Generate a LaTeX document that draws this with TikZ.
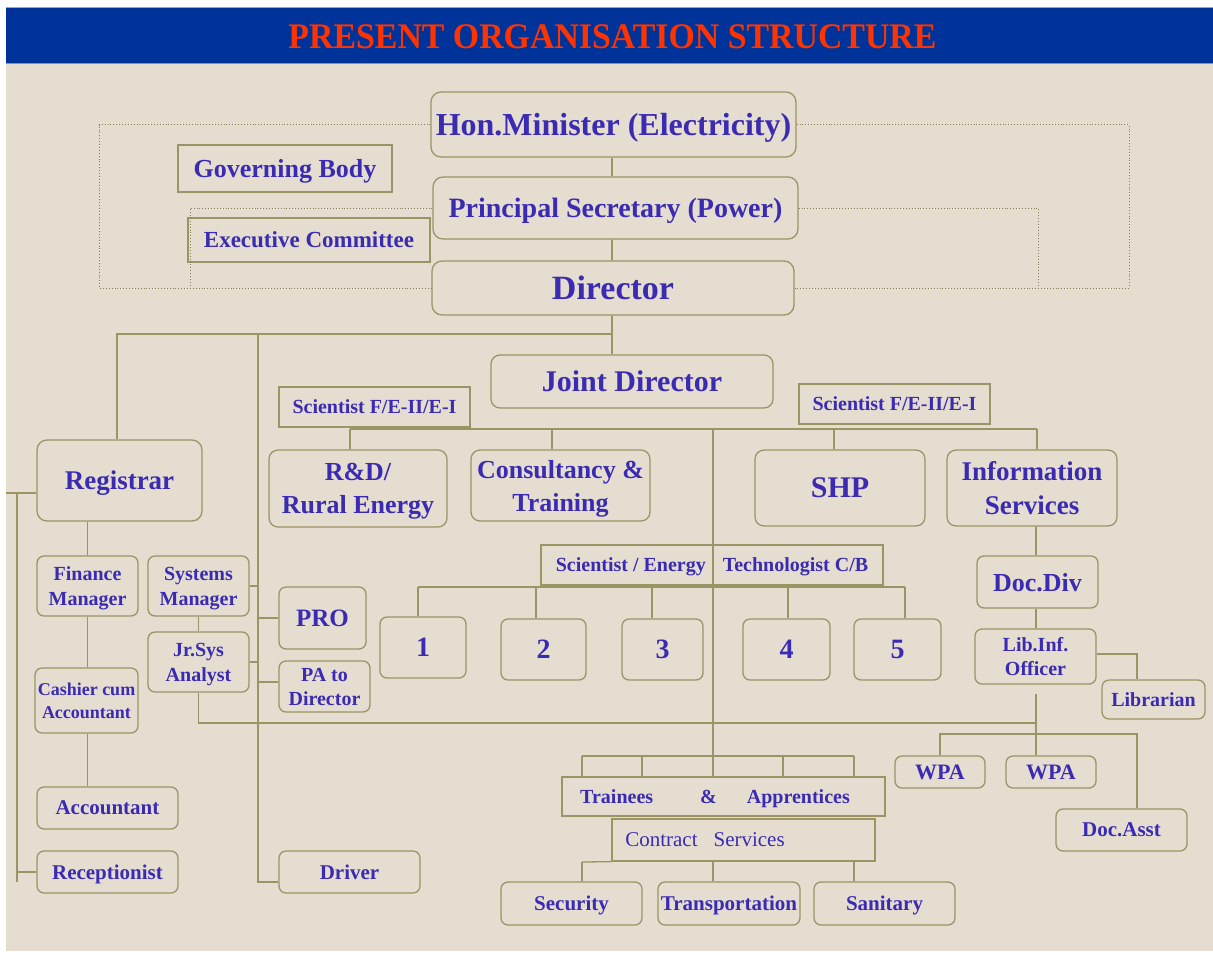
\documentclass[tikz,border=0pt]{standalone}
\usepackage{fontspec}
\setmainfont{Liberation Serif}
\definecolor{ol}{HTML}{9B9464}
\definecolor{tx}{HTML}{3A2BB2}
\definecolor{bg}{HTML}{E6DDD1}
\definecolor{bar}{HTML}{003399}
\definecolor{ttl}{HTML}{FF3300}
\definecolor{dc}{HTML}{857F58}
\newcommand\fs[2]{\fontsize{#1}{#2}\selectfont\bfseries}
\tikzset{
  rb/.style={draw=ol, line width=1.3pt, rounded corners=7pt, text=tx, align=center, inner sep=0pt, text depth=0pt},
  sb/.style={draw=ol, line width=1.3pt, text=tx, align=center, inner sep=0pt, text depth=0pt},
  ln/.style={draw=ol, line width=1.3pt},
  dots/.style={draw=dc, dotted, line width=0.9pt}
}
\begin{document}
\begin{tikzpicture}[x=1pt,y=-1pt]
\useasboundingbox (0,0) rectangle (1213,954);
\fill[white] (0,0) rectangle (1213,954);
\fill[bg] (6,63) rectangle (1213,951);
\fill[bar] (6,7) rectangle (1213,63);
\draw[gray!70, line width=0.8pt] (6,7) -- (1213,7);
\draw[ol, line width=0.8pt] (6,63) -- (1213,63);
\node[font=\fontsize{36}{40}\selectfont\bfseries, text=ttl, anchor=base] (title) at (612.5,48) {\scalebox{0.94}[1]{PRESENT ORGANISATION STRUCTURE}};

% top hierarchy
\node[rb, font=\fs{32}{36}, minimum width=365pt, minimum height=65pt, rounded corners=10pt] (hm) at (613.5,124.5) {Hon.Minister (Electricity)};
\node[rb, font=\fs{28}{32}, minimum width=365pt, minimum height=62pt, rounded corners=10pt] (ps) at (615.5,208) {Principal Secretary (Power)};
\node[rb, font=\fs{34}{38}, minimum width=362pt, minimum height=54pt, rounded corners=10pt] (dir) at (613,288) {Director};
\node[sb, font=\fs{26}{30}, minimum width=214pt, minimum height=47pt] (gb) at (285,168.5) {Governing Body};
\node[sb, font=\fs{23}{27}, minimum width=242pt, minimum height=44pt] (ec) at (309,240) {Executive Committee};

% joint director level
\node[rb, font=\fs{30}{34}, minimum width=282pt, minimum height=53pt, rounded corners=9pt] (jd) at (632,381.5) {Joint Director};
\node[sb, font=\fs{20}{24}, minimum width=191pt, minimum height=40pt] (sf1) at (374.5,407) {Scientist F/E-II/E-I};
\node[sb, font=\fs{20}{24}, minimum width=191pt, minimum height=40pt] (sf2) at (894.5,404) {Scientist F/E-II/E-I};
\node[rb, font=\fs{26}{33}, minimum width=178pt, minimum height=77pt, rounded corners=9pt] (rd) at (358,488.5) {R\&D/\\Rural Energy};
\node[rb, font=\fs{26}{33}, minimum width=179pt, minimum height=71pt, rounded corners=9pt] (ct) at (560.5,485.5) {Consultancy \&\\Training};
\node[rb, font=\fs{30}{34}, minimum width=170pt, minimum height=76pt, rounded corners=9pt] (shp) at (840,488) {SHP};
\node[rb, font=\fs{27}{34}, minimum width=170pt, minimum height=76pt, rounded corners=9pt] (info) at (1032,488) {Information\\Services};
\node[sb, font=\fs{20}{24}, minimum width=342pt, minimum height=40pt] (se) at (712,565) {Scientist / Energy\hspace{17pt}Technologist C/B};

% numbered groups
\node[rb, font=\fs{28}{32}, minimum width=86pt, minimum height=61pt] (n1) at (423,647.5) {1};
\node[rb, font=\fs{28}{32}, minimum width=85pt, minimum height=61pt] (n2) at (543.5,649.5) {2};
\node[rb, font=\fs{28}{32}, minimum width=81pt, minimum height=61pt] (n3) at (662.5,649.5) {3};
\node[rb, font=\fs{28}{32}, minimum width=87pt, minimum height=61pt] (n4) at (786.5,649.5) {4};
\node[rb, font=\fs{28}{32}, minimum width=87pt, minimum height=61pt] (n5) at (897.5,649.5) {5};

% left column
\node[rb, font=\fs{27}{32}, minimum width=165pt, minimum height=81pt, rounded corners=10pt] (reg) at (119.5,480.5) {Registrar};
\node[rb, font=\fs{20}{25}, minimum width=101pt, minimum height=60pt] (fm) at (87.5,586) {Finance\\Manager};
\node[rb, font=\fs{18}{23}, minimum width=103pt, minimum height=65pt] (cash) at (86.5,700.5) {Cashier cum\\Accountant};
\node[rb, font=\fs{21}{25}, minimum width=141pt, minimum height=42pt] (acc) at (107.5,808) {Accountant};
\node[rb, font=\fs{21}{25}, minimum width=141pt, minimum height=42pt] (rec) at (107.5,872) {Receptionist};
\node[rb, font=\fs{20}{25}, minimum width=101pt, minimum height=60pt] (sm) at (198.5,586) {Systems\\Manager};
\node[rb, font=\fs{20}{25}, minimum width=101pt, minimum height=60pt] (jr) at (198.5,662) {Jr.Sys\\Analyst};
\node[rb, font=\fs{25}{30}, minimum width=87pt, minimum height=62pt] (pro) at (322.5,618) {PRO};
\node[rb, font=\fs{20}{24}, minimum width=91pt, minimum height=51pt] (pa) at (324.5,686.5) {PA to\\Director};
\node[rb, font=\fs{21}{25}, minimum width=141pt, minimum height=42pt] (drv) at (349.5,872) {Driver};

% right column
\node[rb, font=\fs{26}{30}, minimum width=121pt, minimum height=52pt] (dd) at (1037.5,582) {Doc.Div};
\node[rb, font=\fs{20}{24}, minimum width=121pt, minimum height=55pt] (lib) at (1035.5,656.5) {Lib.Inf.\\Officer};
\node[rb, font=\fs{20}{24}, minimum width=103pt, minimum height=39pt] (libr) at (1153.5,699.5) {Librarian};
\node[rb, font=\fs{22}{26}, minimum width=90pt, minimum height=32pt] (wpa1) at (940,772) {WPA};
\node[rb, font=\fs{22}{26}, minimum width=90pt, minimum height=32pt] (wpa2) at (1051,772) {WPA};
\node[rb, font=\fs{21}{25}, minimum width=131pt, minimum height=42pt] (da) at (1121.5,830) {Doc.Asst};

% bottom middle
\node[sb, font=\fs{20}{24}, minimum width=323pt, minimum height=39pt] (ta) at (723.5,796.5) {Trainees\hspace{47pt}\&\hspace{30pt}Apprentices\hspace{17pt}};
\node[sb, font=\fontsize{21}{24}\selectfont, minimum width=263pt, minimum height=42pt] (cs) at (743.5,840) {Contract\hspace{16pt}Services\hspace{77pt}};
\node[rb, font=\fs{21}{25}, minimum width=141pt, minimum height=43pt] (sec) at (571.5,903.5) {Security};
\node[rb, font=\fs{21}{25}, minimum width=142pt, minimum height=43pt] (tr) at (729,903.5) {Transportation};
\node[rb, font=\fs{21}{25}, minimum width=141pt, minimum height=43pt] (san) at (884.5,903.5) {Sanitary};

% dotted links
\coordinate (oL) at (99,0); \coordinate (iL) at (190,0);
\coordinate (oR) at (1129,0); \coordinate (iR) at (1038,0);
\draw[dots] (hm.west) -| (oL |- dir.west) -- (dir.west);
\draw[dots] (ps.west) -| (iL |- dir.west);
\draw[dots] (hm.east) -| (oR |- dir.east) -- (dir.east);
\draw[dots] (ps.east) -| (iR |- dir.east);

% spine
\coordinate (sp) at (612,334);
\draw[ln] (hm.south -| sp) -- (ps.north -| sp);
\draw[ln] (ps.south -| sp) -- (dir.north -| sp);
\draw[ln] (dir.south -| sp) -- (jd.north -| sp);
\draw[ln] (reg.north -| 117,0) -- (117,334) -- (sp);

% line x=258
\coordinate (lv) at (258,334);
\coordinate (lvb) at (258,882);
\draw[ln] (lv) -- (lvb) -- (lvb -| drv.west);
\draw[ln] (sm.east) -- (sm.east -| lv);
\draw[ln] (jr.east) -- (jr.east -| lv);
\draw[ln] (pro.west) -- (pro.west -| lv);
\coordinate (paw) at ([yshift=4.5pt]pa.west);
\draw[ln] (paw) -- (paw -| lv);

% left edge
\coordinate (rgw) at ([yshift=-12.5pt]reg.west);
\coordinate (lx) at (17,0); \coordinate (le) at (6,0);
\draw[ln] (rgw -| le) -- (rgw);
\draw[ln] (rgw -| lx) -- (lx |- lvb);
\draw[ln] (rec.west -| lx) -- (rec.west);
\draw[ln] (fm.north) -- (fm.north |- reg.south);
\draw[ln] (fm.south) -- (cash.north -| fm.south);
\draw[ln] (cash.south -| fm.south) -- (acc.north -| fm.south);
\draw[ln] (sm.south) -- (jr.north);

% Jr.Sys line to documentation
\coordinate (j723) at (1036,723);
\coordinate (wj) at (1036,734);
\draw[ln] (jr.south) |- (j723);
\coordinate (libs) at ([yshift=-9pt]lib.south);
\draw[ln] (libs -| wj) -- (wj) -- (wpa2.north -| wj);
\coordinate (daj) at (1137,734);
\draw[ln] (wpa1.north) |- (daj) -- (da.north -| daj);
\coordinate (lbj) at (1137,654);
\draw[ln] (lbj -| lib.east) -- (lbj) -- (libr.north -| lbj);
\draw[ln] (info.south -| wj) -- (dd.north -| wj);
\draw[ln] (dd.south -| wj) -- (lib.north -| wj);

% joint director branches
\coordinate (jL) at (350,429); \coordinate (jR) at (1037,429);
\draw[ln] (jL) -- (jR);
\draw[ln] (jL) -- (rd.north -| jL);
\coordinate (bct) at (552,429); \draw[ln] (bct) -- (ct.north -| bct);
\coordinate (bsh) at (834,429); \draw[ln] (bsh) -- (shp.north -| bsh);
\draw[ln] (jR) -- (info.north -| jR);
\coordinate (bm) at (713,429); \coordinate (tj) at (713,756);
\draw[ln] (bm) -- (tj);

% trainees
\coordinate (tL) at (582,756); \coordinate (tR) at (854,756);
\draw[ln] (tL) -- (tR);
\foreach \x in {582,642,713,783,854} \draw[ln] (\x,756) -- (ta.north -| \x,0);

% contract services
\coordinate (cL) at (582,862);
\draw[ln] (cL) -- (cs.south west);
\draw[ln] (cL) -- (sec.north -| cL);
\draw[ln] (cs.south -| 713,0) -- (tr.north -| 713,0);
\draw[ln] (cs.south -| 854,0) -- (san.north -| 854,0);

% scientist / energy technologist groups
\coordinate (sL) at (418,587); \coordinate (sR) at (905,587);
\draw[ln] (sL) -- (sR);
\draw[ln] (sL) -- (n1.north -| sL);
\foreach \x/\n in {536/n2,652/n3,788/n4} \draw[ln] (\x,587) -- (\n.north -| \x,0);
\draw[ln] (sR) -- (n5.north -| sR);
\end{tikzpicture}
\end{document}
